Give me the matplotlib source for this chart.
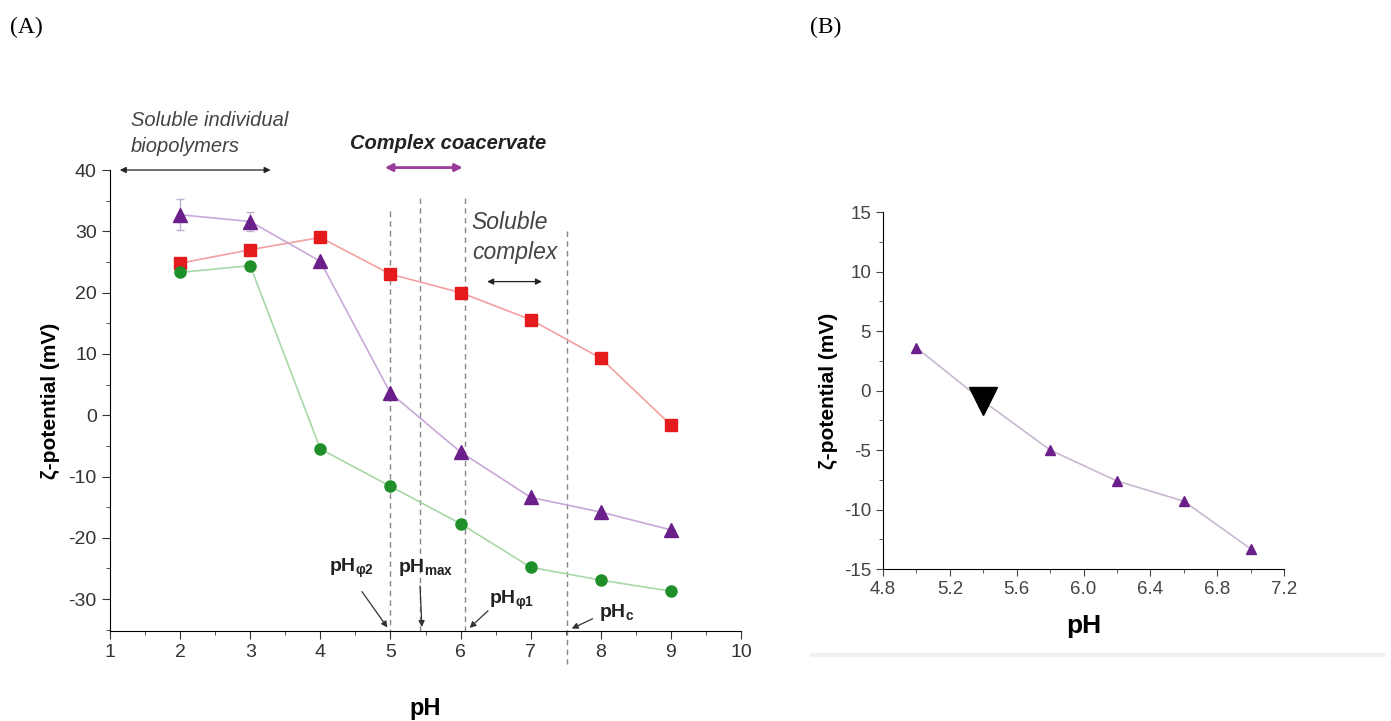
import matplotlib.pyplot as plt
from matplotlib.ticker import MultipleLocator, FormatStrFormatter

plt.rcParams['font.family'] = ['Liberation Sans', 'DejaVu Sans']
plt.rcParams['axes.unicode_minus'] = False
plt.rcParams['mathtext.default'] = 'regular'

# panel A: zeta potential vs pH
ph = [2, 3, 4, 5, 6, 7, 8, 9]
zeta_red = [24.8, 27.0, 29.0, 23.0, 20.0, 15.6, 9.3, -1.6]
zeta_purple = [32.7, 31.6, 25.1, 3.6, -6.0, -13.4, -15.8, -18.7]
zeta_purple_err = [2.5, 1.5, 0, 0, 0, 0, 0, 0]
zeta_green = [23.3, 24.4, -5.5, -11.6, -17.7, -24.8, -26.9, -28.7]

# characteristic pH values (pHφ2, pHmax, pHφ1, pHc)
ph_marks = [5.0, 5.42, 6.07, 7.52]
ph_mark_labels = [r'pH$_{\varphi2}$', r'pH$_{max}$', r'pH$_{\varphi1}$', r'pH$_{c}$']

# panel B: zoom on the mixture curve
ph_b = [5.0, 5.4, 5.8, 6.2, 6.6, 7.0]
zeta_b = [3.6, -0.9, -5.0, -7.6, -9.3, -13.3]
ph_zero = 5.4
zeta_zero = -0.9

fig = plt.figure(figsize=(13.91, 7.21), dpi=100)

ax = fig.add_axes([0.0791, 0.1248, 0.4536, 0.6394])
ax.plot(ph, zeta_red, color='#f4a0a0', lw=1.2, marker='s', ms=8,
        mfc='#e41a1c', mec='#e41a1c', zorder=3)
ax.errorbar(ph, zeta_purple, yerr=zeta_purple_err, color='#c8a8d8', lw=1.2,
            marker='^', ms=10, mfc='#6b1f8a', mec='#6b1f8a',
            ecolor='#c0b0d0', elinewidth=1, capsize=3, zorder=3)
ax.plot(ph, zeta_green, color='#a8d8a8', lw=1.2, marker='o', ms=8,
        mfc='#1f8f2a', mec='#1f8f2a', zorder=3)

for x in ph_marks[:3]:
    ax.plot([x, x], [35.5 if x > 5.2 else 33.3, -35.2], ls=(0, (4, 3)),
            color='#888888', lw=1, zorder=1)
ax.plot([ph_marks[3], ph_marks[3]], [30, -40.5], ls=(0, (4, 3)),
        color='#888888', lw=1, zorder=1, clip_on=False)

ax.set_xlim(1, 10)
ax.set_ylim(-35.2, 40)
ax.xaxis.set_major_locator(MultipleLocator(1))
ax.xaxis.set_minor_locator(MultipleLocator(0.5))
ax.yaxis.set_major_locator(MultipleLocator(10))
ax.yaxis.set_minor_locator(MultipleLocator(5))
ax.tick_params(which='both', direction='out', labelsize=14, colors='#333333')
ax.tick_params(which='major', length=6)
ax.tick_params(which='minor', length=3)
ax.spines['top'].set_visible(False)
ax.spines['right'].set_visible(False)
ax.set_xlabel('pH', fontsize=17, fontweight='bold', labelpad=26)
ax.set_ylabel('ζ-potential (mV)', fontsize=15, fontweight='bold', labelpad=6)

# region annotations
arr = dict(arrowstyle='<|-|>', color='#222222', lw=0.9, mutation_scale=9)
ax.annotate('', xy=(1.1, 40), xytext=(3.33, 40), arrowprops=arr,
            annotation_clip=False)
ax.text(1.3, 46.0, 'Soluble individual\nbiopolymers', fontsize=14.5,
        style='italic', color='#444444', va='center', linespacing=1.45)
ax.text(4.42, 44.4, 'Complex coacervate', fontsize=14.5, style='italic',
        fontweight='bold', color='#222222', va='center')
ax.annotate('', xy=(4.88, 40.4), xytext=(6.07, 40.4),
            arrowprops=dict(arrowstyle='<|-|>', color='#9a3c9a', lw=2,
                            mutation_scale=11), annotation_clip=False)
ax.text(6.16, 29.0, 'Soluble\ncomplex', fontsize=16.5, style='italic',
        color='#444444', va='center', linespacing=1.4)
ax.annotate('', xy=(6.34, 21.8), xytext=(7.2, 21.8), arrowprops=arr)

# pH markers with arrows to the axis
label_pos = [(4.45, -25.0), (5.5, -24.8), (6.73, -30.2), (8.23, -32.1)]
arrow_from = [(4.57, -28.4), (5.42, -27.4), (6.42, -31.6), (7.92, -33.0)]
for x, lab, (tx, ty), (ax0, ay0) in zip(ph_marks, ph_mark_labels, label_pos, arrow_from):
    ax.text(tx, ty, lab, fontsize=14, fontweight='bold', color='#222222',
            ha='center', va='center')
    ax.annotate('', xy=(x - 0.02 if x < 5.2 else x + 0.03, -35.0), xytext=(ax0, ay0),
                arrowprops=dict(arrowstyle='-|>', color='#333333', lw=0.9,
                                mutation_scale=9))

# panel B
bx = fig.add_axes([0.6348, 0.2108, 0.2883, 0.4951])
bx.plot(ph_b, zeta_b, color='#c8b8d0', lw=1.2, marker='^', ms=7,
        mfc='#6b1f8a', mec='#6b1f8a', zorder=3)
bx.plot([ph_zero], [zeta_zero], marker='v', ms=20, color='black', zorder=4)
bx.set_xlim(4.8, 7.2)
bx.set_ylim(-15, 15)
bx.xaxis.set_major_locator(MultipleLocator(0.4))
bx.xaxis.set_minor_locator(MultipleLocator(0.2))
bx.xaxis.set_major_formatter(FormatStrFormatter('%.1f'))
bx.yaxis.set_major_locator(MultipleLocator(5))
bx.yaxis.set_minor_locator(MultipleLocator(2.5))
bx.tick_params(which='both', direction='out', labelsize=13.5, colors='#444444')
bx.tick_params(which='major', length=5)
bx.tick_params(which='minor', length=3)
bx.spines['top'].set_visible(False)
bx.spines['right'].set_visible(False)
bx.set_xlabel('pH', fontsize=19, fontweight='bold', labelpad=12)
bx.set_ylabel('ζ-potential (mV)', fontsize=15, fontweight='bold', labelpad=4)

# faint strip under panel B
fig.patches.append(plt.Rectangle((0.582, 0.090), 0.414, 0.004,
                                 transform=fig.transFigure,
                                 color='#eef2f5', zorder=0))

fig.text(0.007, 0.962, '(A)', fontsize=17, family='Liberation Serif', va='center')
fig.text(0.582, 0.962, '(B)', fontsize=17, family='Liberation Serif', va='center')

fig.savefig('out.png', dpi=100, facecolor='white')
